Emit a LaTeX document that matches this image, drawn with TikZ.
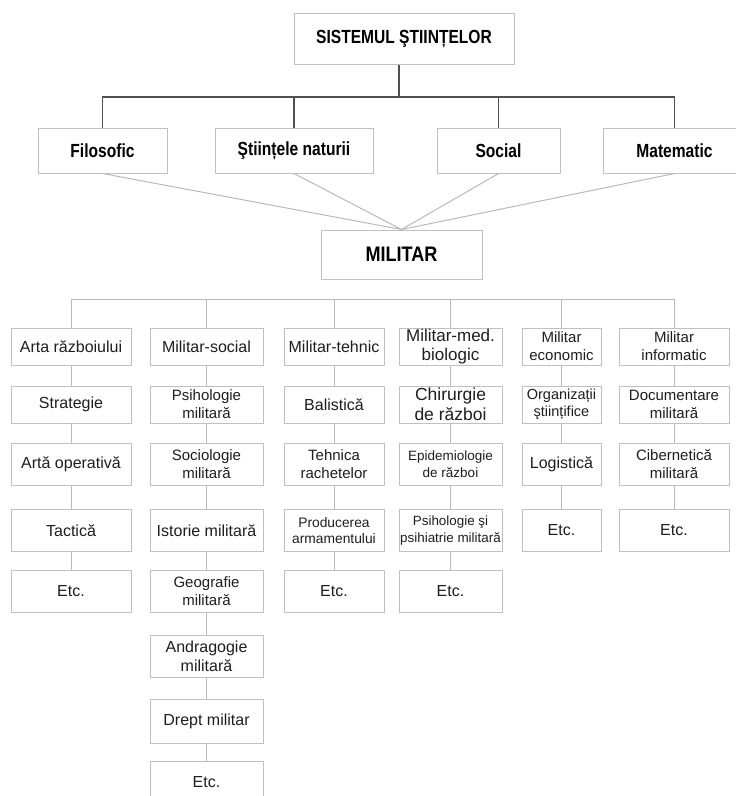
\documentclass[tikz,border=0pt]{standalone}
\usepackage{fontspec}
\setmainfont{Liberation Sans}
\newfontfamily\condfont[FakeStretch=0.82]{Liberation Sans}
\newfontfamily\milfont[FakeStretch=0.86]{Liberation Sans}
\definecolor{boxgray}{RGB}{192,192,192}
\definecolor{linkgray}{RGB}{185,185,185}
\definecolor{bardark}{RGB}{80,80,80}
\definecolor{txtgray}{RGB}{30,30,30}
\tikzset{
  box/.style={draw=boxgray, line width=1pt, fill=white, inner sep=1pt, align=center, text=txtgray},
  headbox/.style={box, text=black, font=\condfont\bfseries\fontsize{19}{22}\selectfont},
  cell/.style={box, font=\fontsize{16}{19}\selectfont},
  fmid/.style={font=\fontsize{15}{18}\selectfont},
  fsmall/.style={font=\fontsize{13.8}{16.5}\selectfont},
  fbig/.style={font=\fontsize{17.5}{20}\selectfont},
  link/.style={draw=linkgray, line width=1pt},
  bar/.style={draw=bardark, line width=1.5pt},
  col1/.style={cell, minimum width=120},
  col2/.style={cell, minimum width=113},
  col3/.style={cell, minimum width=100},
  col4/.style={cell, minimum width=103},
  col5/.style={cell, minimum width=79},
  col6/.style={cell, minimum width=110},
  ra/.style={minimum height=37},
  rb/.style={minimum height=42}
}
\begin{document}
\begin{tikzpicture}[x=1pt,y=1pt,yscale=-1,xscale=1]
        \useasboundingbox (0,0) rectangle (736,796);
        % Head boxes
        \node [headbox, minimum width=220, minimum height=51] (sist) at (404,38.5) {SISTEMUL ŞTIINȚELOR};
        \node [headbox, minimum width=129, minimum height=45] (filo) at (102.5,150.5) {Filosofic};
        \node [headbox, minimum width=158, minimum height=45] (stiin) at (294,150.5) {Ştiințele naturii};
        \node [headbox, minimum width=123, minimum height=45] (soc) at (498.5,150.5) {Social};
        \node [headbox, minimum width=142, minimum height=45] (mat) at (674.5,150.5) {Matematic};
        \node [headbox, minimum width=161, minimum height=49, font=\milfont\bfseries\fontsize{21}{24}\selectfont] (mil) at (401.5,254.5) {MILITAR};

        % Top bar
        \coordinate (tbar) at (399,97);
        \draw [bar] (tbar) -- (tbar |- sist.south);
        \draw [bar] (filo.north) |- (mat.north |- tbar) -- (mat.north);
        \draw [bar] (stiin.north) -- (stiin.north |- tbar);
        \draw [bar] (soc.north) -- (soc.north |- tbar);

        % Lines to MILITAR
        \draw [link] (filo.south) -- (mil.north) (stiin.south) -- (mil.north) (soc.south) -- (mil.north) (mat.south) -- (mil.north);

        % Column 1
        \node [col1, ra] (c1r1) at (71,346.5) {Arta războiului};
        \node [col1, ra] (c1r2) at (71,404.5) {Strategie};
        \node [col1, rb] (c1r3) at (71,464.5) {Artă operativă};
        \node [col1, rb] (c1r4) at (71,530.5) {Tactică};
        \node [col1, rb] (c1r5) at (71,591.5) {Etc.};
        % Column 2
        \node [col2, ra] (c2r1) at (206.5,346.5) {Militar-social};
        \node [col2, ra, fmid] (c2r2) at (206.5,404.5) {Psihologie\\militară};
        \node [col2, rb, fmid] (c2r3) at (206.5,464.5) {Sociologie\\militară};
        \node [col2, rb] (c2r4) at (206.5,530.5) {Istorie militară};
        \node [col2, rb, fmid] (c2r5) at (206.5,591.5) {Geografie\\militară};
        \node [col2, rb] (c2r6) at (206.5,656.5) {Andragogie\\militară};
        \node [col2, rb, minimum height=44] (c2r7) at (206.5,721) {Drept militar};
        \node [col2, rb] (c2r8) at (206.5,782) {Etc.};
        % Column 3
        \node [col3, ra] (c3r1) at (334,346.5) {Militar-tehnic};
        \node [col3, ra] (c3r2) at (334,404.5) {Balistică};
        \node [col3, rb, fmid] (c3r3) at (334,464.5) {Tehnica\\rachetelor};
        \node [col3, rb, fsmall] (c3r4) at (334,530.5) {Producerea\\armamentului};
        \node [col3, rb] (c3r5) at (334,591.5) {Etc.};
        % Column 4
        \node [col4, ra, font=\fontsize{17}{19}\selectfont] (c4r1) at (450.5,346.5) {Militar-med.\\biologic};
        \node [col4, ra, fbig] (c4r2) at (450.5,404.5) {Chirurgie\\de război};
        \node [col4, rb, font=\fontsize{13.5}{17}\selectfont] (c4r3) at (450.5,464.5) {Epidemiologie\\de război};
        \node [col4, rb, font=\fontsize{13.4}{17}\selectfont] (c4r4) at (450.5,530.5) {Psihologie şi\\psihiatrie militară};
        \node [col4, rb] (c4r5) at (450.5,591.5) {Etc.};
        % Column 5
        \node [col5, ra, fmid] (c5r1) at (561.5,346.5) {Militar\\economic};
        \node [col5, ra, font=\fontsize{14.5}{17}\selectfont] (c5r2) at (561.5,404.5) {Organizații\\ştiințifice};
        \node [col5, rb] (c5r3) at (561.5,464.5) {Logistică};
        \node [col5, rb] (c5r4) at (561.5,530.5) {Etc.};
        % Column 6
        \node [col6, ra, fmid] (c6r1) at (674,346.5) {Militar\\informatic};
        \node [col6, ra, fmid] (c6r2) at (674,404.5) {Documentare\\militară};
        \node [col6, rb, fmid] (c6r3) at (674,464.5) {Cibernetică\\militară};
        \node [col6, rb] (c6r4) at (674,530.5) {Etc.};

        % Bottom bar
        \coordinate (bbar) at (0,299);
        \draw [link] (c1r1.north) |- (c6r1.north |- bbar) -- (c6r1.north);
        \draw [link] (c2r1.north) -- (c2r1.north |- bbar);
        \draw [link] (c3r1.north) -- (c3r1.north |- bbar);
        \draw [link] (c4r1.north) -- (c4r1.north |- bbar);
        \draw [link] (c5r1.north) -- (c5r1.north |- bbar);

        % Column links
        \draw [link] (c1r1) -- (c1r2) (c1r2) -- (c1r3) (c1r3) -- (c1r4) (c1r4) -- (c1r5);
        \draw [link] (c2r1) -- (c2r2) (c2r2) -- (c2r3) (c2r3) -- (c2r4) (c2r4) -- (c2r5) (c2r5) -- (c2r6) (c2r6) -- (c2r7) (c2r7) -- (c2r8);
        \draw [link] (c3r1) -- (c3r2) (c3r2) -- (c3r3) (c3r3) -- (c3r4) (c3r4) -- (c3r5);
        \draw [link] (c4r1) -- (c4r2) (c4r2) -- (c4r3) (c4r3) -- (c4r4) (c4r4) -- (c4r5);
        \draw [link] (c5r1) -- (c5r2) (c5r2) -- (c5r3) (c5r3) -- (c5r4);
        \draw [link] (c6r1) -- (c6r2) (c6r2) -- (c6r3) (c6r3) -- (c6r4);
\end{tikzpicture}
\end{document}
